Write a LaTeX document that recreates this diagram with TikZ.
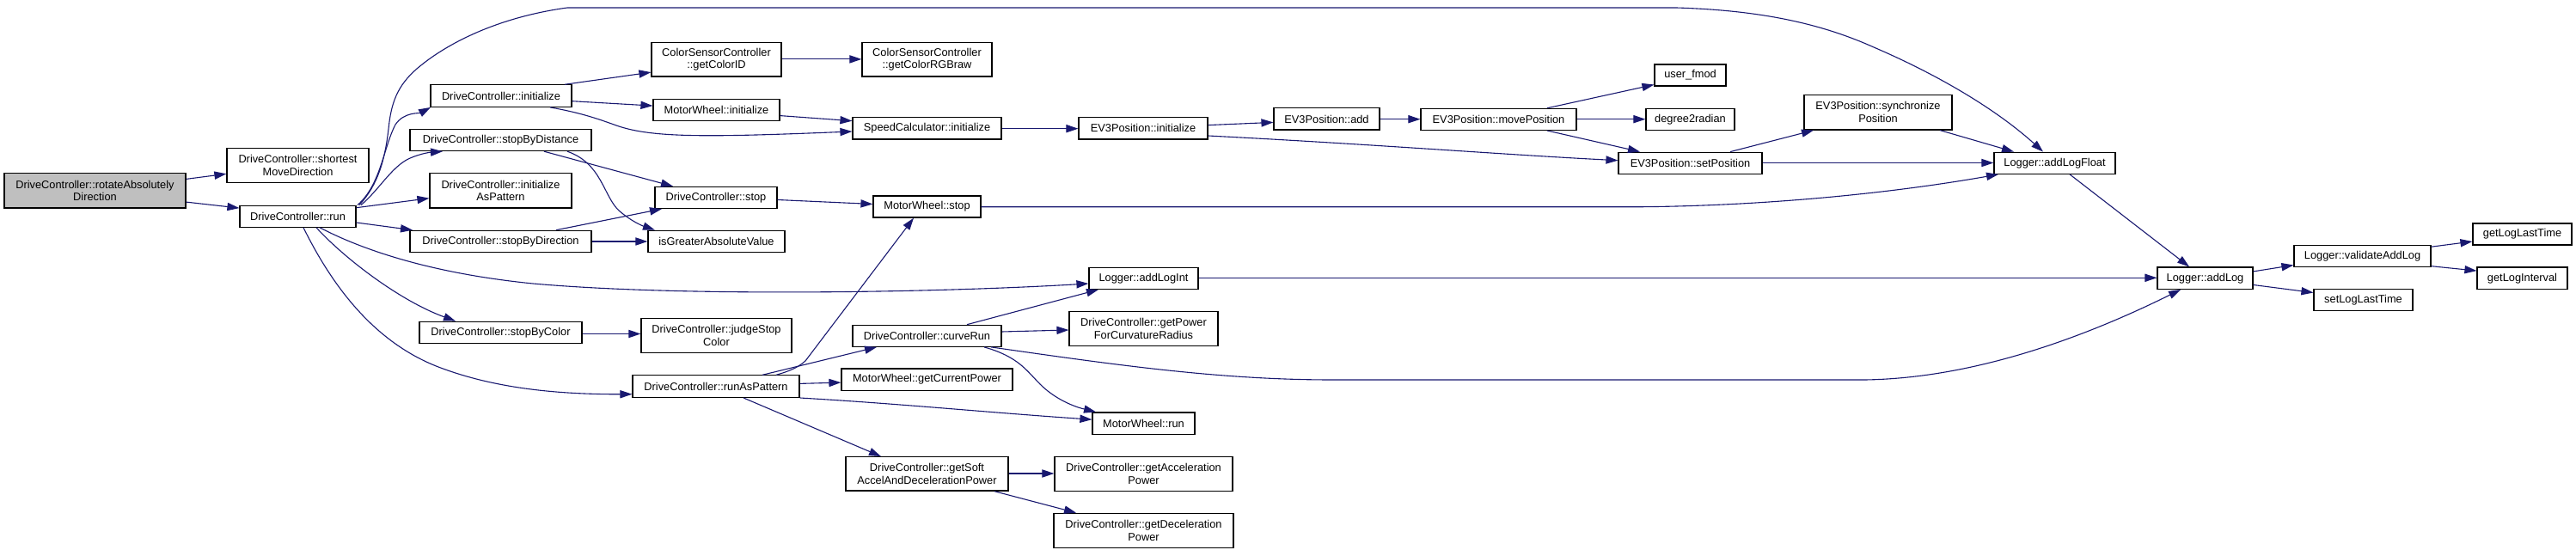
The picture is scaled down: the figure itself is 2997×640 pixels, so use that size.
\documentclass[tikz,border=0pt]{standalone}
\usepackage{fontspec}
\setmainfont{Liberation Sans}
\usetikzlibrary{arrows.meta,calc}
\definecolor{edgec}{HTML}{191970}
\definecolor{rootfill}{HTML}{BFBFBF}
\tikzset{
  box/.style={draw=black, line width=0.6pt, fill=white, inner sep=0pt, align=center,
    font=\fontsize{6.4}{7.4}\selectfont},
  edge/.style={draw=edgec, line width=0.55pt, -{Triangle[length=7pt,width=4.6pt]}, fill=none}
}
\newcommand\nd[7][]{\node[box,#1, minimum width={(#5-#3)*0.5pt}, minimum height={(#6-#4)*0.5pt}] (#2) at ({(#3+#5)/2},{(#4+#6)/2}) {#7};}
\begin{document}
\begin{tikzpicture}[x=0.5pt,y=-0.5pt]
\useasboundingbox (0,0) rectangle (2997,640);
% nodes
\nd[fill=rootfill]{rot}{5}{201.8}{216}{242.1}{DriveController::rotateAbsolutely\\Direction}
\nd{shortest}{264}{172.3}{429}{212.5}{DriveController::shortest\\MoveDirection}
\nd{run}{279}{239.2}{414}{264.2}{DriveController::run}
\nd{init}{501}{98.9}{665}{124.3}{DriveController::initialize}
\nd{sbd}{477}{150.6}{688}{175.6}{DriveController::stopByDistance}
\nd{iap}{500}{201.8}{665}{242.1}{DriveController::initialize\\AsPattern}
\nd{sbdir}{477}{268.3}{688}{293.3}{DriveController::stopByDirection}
\nd{sbc}{488}{374.2}{677}{399.2}{DriveController::stopByColor}
\nd{gcid}{758}{49.2}{909}{89.0}{ColorSensorController\\::getColorID}
\nd{mwi}{760}{115.3}{907}{140.7}{MotorWheel::initialize}
\nd{stop}{762}{217.4}{904}{242.5}{DriveController::stop}
\nd{iga}{754}{268.3}{913}{293.3}{isGreaterAbsoluteValue}
\nd{jsc}{746}{370.9}{921}{410.3}{DriveController::judgeStop\\Color}
\nd{rap}{736}{436.9}{930}{462.4}{DriveController::runAsPattern}
\nd{sci}{992}{136.6}{1165}{162.1}{SpeedCalculator::initialize}
\nd{rgb}{1003}{49.2}{1154}{89.0}{ColorSensorController\\::getColorRGBraw}
\nd{mws}{1016}{228.1}{1141}{253.1}{MotorWheel::stop}
\nd{crun}{992}{378.3}{1165}{403.3}{DriveController::curveRun}
\nd{gcp}{979}{429.1}{1178}{454.2}{MotorWheel::getCurrentPower}
\nd{gsoft}{984}{531.7}{1173}{571.1}{DriveController::getSoft\\AccelAndDecelerationPower}
\nd{evi}{1255}{136.6}{1405}{162.1}{EV3Position::initialize}
\nd{ali}{1267}{311.4}{1394}{336.4}{Logger::addLogInt}
\nd{gpfc}{1244}{362.7}{1417}{402.9}{DriveController::getPower\\ForCurvatureRadius}
\nd{mwr}{1271}{480.0}{1390}{505.4}{MotorWheel::run}
\nd{gap}{1227}{531.7}{1434}{571.5}{DriveController::getAcceleration\\Power}
\nd{gdp}{1226}{597.3}{1435}{637.1}{DriveController::getDeceleration\\Power}
\nd{add}{1482}{125.9}{1605}{151.0}{EV3Position::add}
\nd{mvp}{1653}{126.4}{1834}{151.4}{EV3Position::movePosition}
\nd{ufm}{1925}{75.1}{2008}{100.1}{user\_fmod}
\nd{d2r}{1915}{126.4}{2018}{151.4}{degree2radian}
\nd{setp}{1883}{177.2}{2050}{202.3}{EV3Position::setPosition}
\nd{sync}{2099}{110.4}{2271}{151.0}{EV3Position::synchronize\\Position}
\nd{alf}{2320}{177.2}{2461}{202.3}{Logger::addLogFloat}
\nd{alog}{2510}{311.0}{2621}{336.4}{Logger::addLog}
\nd{val}{2669}{285.5}{2828}{310.6}{Logger::validateAddLog}
\nd{slt}{2692}{336.4}{2807}{361.8}{setLogLastTime}
\nd{gllt}{2877}{260.1}{2992}{285.1}{getLogLastTime}
\nd{gli}{2882}{311.0}{2987}{336.4}{getLogInterval}
% edges
\draw[edge] (rot.east |- 0,208.4) -- (shortest.west |- 0,202.3);
\draw[edge] (rot.east |- 0,235.1) -- (run.west |- 0,242.1);
\draw[edge] (418,0 |- run.north) .. controls (440,215) and (448,185) .. (452,150) .. controls (455,120) and (462,100) .. (485,80) .. controls (520,50) and (580,20) .. (660,9) -- (1950,9) .. controls (2050,12) and (2120,28) .. (2180,55) .. controls (2250,85) and (2320,125) .. (2377,0 |- alf.north);
\draw[edge] (416,0 |- run.north) .. controls (443,215) and (446,172) .. (460,145) .. controls (470,130) and (488,132) .. (501,0 |- init.south);
\draw[edge] (420,0 |- run.north) .. controls (440,222) and (455,195) .. (475,185) .. controls (490,178) and (503,177) .. (515,0 |- sbd.south);
\draw[edge] (run.east |- 0,241.7) -- (iap.west |- 0,230.7);
\draw[edge] (run.east |- 0,259) -- (480,0 |- sbdir.north);
\draw[edge] (372,0 |- run.south) .. controls (420,290) and (500,318) .. (620,330) .. controls (800,346) and (1100,340) .. (ali.west |- 0,330);
\draw[edge] (368,0 |- run.south) .. controls (400,300) and (465,350) .. (530,0 |- sbc.north);
\draw[edge] (353,0 |- run.south) .. controls (390,340) and (440,400) .. (510,427) .. controls (570,450) and (640,459) .. (rap.west |- 0,458.7);
\draw[edge] (657,0 |- init.north) -- (gcid.west |- 0,84.1);
\draw[edge] (init.east |- 0,117.7) -- (mwi.west |- 0,123.1);
\draw[edge] (640,0 |- init.south) .. controls (680,132) and (700,140) .. (720,147) .. controls (760,160) and (820,160) .. (sci.west |- 0,153);
\draw[edge] (mwi.east |- 0,134.6) -- (sci.west |- 0,140.7);
\draw[edge] (gcid.east |- 0,68.9) -- (rgb.west |- 0,68.9);
\draw[edge] (633,0 |- sbd.south) -- (783,0 |- stop.north);
\draw[edge] (660,0 |- sbd.south) .. controls (700,190) and (702,228) .. (720,245) .. controls (735,258) and (748,263) .. (762,0 |- iga.north);
\draw[edge] (647,0 |- sbdir.north) -- (770,0 |- stop.south);
\draw[edge] (sbdir.east |- 0,281) -- (iga.west |- 0,281);
\draw[edge] (stop.east |- 0,232.5) -- (mws.west |- 0,237.5);
\draw[edge] (sbc.east |- 0,388.5) -- (jsc.west |- 0,388.5);
\draw[edge] (903,0 |- rap.north) .. controls (918,432) and (928,428) .. (937,420) -- (1063,0 |- mws.south);
\draw[edge] (887,0 |- rap.north) -- (1020,0 |- crun.south);
\draw[edge] (rap.east |- 0,446.4) -- (gcp.west |- 0,445.1);
\draw[edge] (rap.south east) .. controls (1050,470) and (1150,480) .. (mwr.west |- 0,488.2);
\draw[edge] (865,0 |- rap.south) -- (1025,0 |- gsoft.north);
\draw[edge] (sci.east |- 0,149.7) -- (evi.west |- 0,149.7);
\draw[edge] (evi.east |- 0,145.6) -- (add.west |- 0,142.4);
\draw[edge] (evi.east |- 0,158) .. controls (1600,168) and (1750,180) .. (setp.west |- 0,186.7);
\draw[edge] (add.east |- 0,138.7) -- (mvp.west |- 0,138.7);
\draw[edge] (1800,0 |- mvp.north) -- (ufm.west |- 0,98.5);
\draw[edge] (mvp.east |- 0,138.7) -- (d2r.west |- 0,138.7);
\draw[edge] (1800,0 |- mvp.south) -- (1908,0 |- setp.north);
\draw[edge] (2013,0 |- setp.north) -- (2110,0 |- sync.south);
\draw[edge] (setp.east |- 0,189.5) -- (alf.west |- 0,189.5);
\draw[edge] (2257,0 |- sync.south) -- (2343,0 |- alf.north);
\draw[edge] (mws.east |- 0,240.8) -- (1900,240.8) .. controls (2050,240) and (2200,225) .. (2325,0 |- alf.south);
\draw[edge] (ali.east |- 0,323.3) -- (alog.west |- 0,323.3);
\draw[edge] (1125,0 |- crun.north) -- (1278,0 |- ali.south);
\draw[edge] (crun.east |- 0,386) -- (gpfc.west |- 0,384);
\draw[edge] (1145,0 |- crun.south) .. controls (1185,415) and (1195,432) .. (1210,447) .. controls (1225,462) and (1245,472) .. (1275,0 |- mwr.north);
\draw[edge] (1153,0 |- crun.south) .. controls (1300,425) and (1420,442) .. (1550,442) -- (2170,442) .. controls (2300,440) and (2430,390) .. (2537,0 |- alog.south);
\draw[edge] (gsoft.east |- 0,551) -- (gap.west |- 0,551);
\draw[edge] (1157,0 |- gsoft.south) -- (1252,0 |- gdp.north);
\draw[edge] (2408,0 |- alf.south) -- (2547,0 |- alog.north);
\draw[edge] (alog.east |- 0,315.9) -- (val.west |- 0,308.5);
\draw[edge] (alog.east |- 0,331.5) -- (slt.west |- 0,340.5);
\draw[edge] (val.east |- 0,287.2) -- (gllt.west |- 0,281);
\draw[edge] (val.east |- 0,309.7) -- (gli.west |- 0,315.1);
\end{tikzpicture}
\end{document}
